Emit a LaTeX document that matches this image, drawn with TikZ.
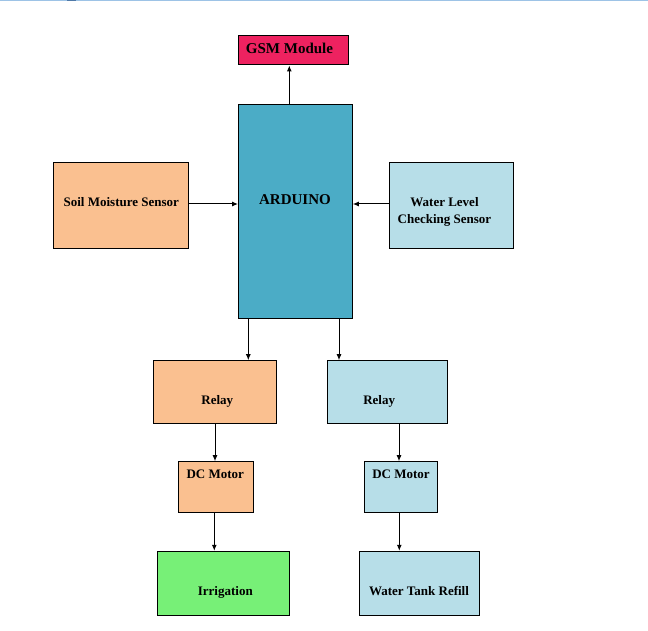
\documentclass[tikz,border=0pt]{standalone}
\usepackage{fontspec}
\setmainfont{Liberation Serif}
\usetikzlibrary{arrows.meta}

\definecolor{gsmred}{RGB}{238,34,96}
\definecolor{ardblue}{RGB}{75,172,198}
\definecolor{soilorange}{RGB}{250,192,144}
\definecolor{waterblue}{RGB}{183,222,232}
\definecolor{irrgreen}{RGB}{119,240,119}
\definecolor{topblue}{RGB}{157,195,230}
\definecolor{topdark}{RGB}{79,121,168}

\begin{document}
\begin{tikzpicture}[x=1pt, y=-1pt,
  block/.style={draw=black, line width=1pt, inner sep=0pt},
  lbl/.style={anchor=base, font=\bfseries\fontsize{13}{17}\selectfont},
  biglbl/.style={anchor=base, font=\bfseries\fontsize{15}{18}\selectfont},
  arr/.style={line width=1pt, -{Latex[length=6pt,width=5pt]}}]

% Fix the page size
\useasboundingbox (0,0) rectangle (648,631);

% Thin line along the top edge
\fill[topblue] (0,0) rectangle (648,1.5);
\fill[topdark] (67,0) rectangle (76,1.5);

% Draw the blocks
\node[block, fill=gsmred, minimum width=110, minimum height=29.3] (gsm) at (293.3,50.3) {};
\node[block, fill=ardblue, minimum width=113.8, minimum height=214] (ard) at (295.4,211.3) {};
\node[block, fill=soilorange, minimum width=135, minimum height=86] (soil) at (120.8,205.3) {};
\node[block, fill=waterblue, minimum width=124, minimum height=86] (water) at (451.3,205.3) {};
\node[block, fill=soilorange, minimum width=123.4, minimum height=62.6] (relayL) at (215,392) {};
\node[block, fill=waterblue, minimum width=120, minimum height=62.6] (relayR) at (387.3,392) {};
\node[block, fill=soilorange, minimum width=75.4, minimum height=50.6] (motorL) at (216,487) {};
\node[block, fill=waterblue, minimum width=73, minimum height=50.6] (motorR) at (400.8,487) {};
\node[block, fill=irrgreen, minimum width=132, minimum height=64] (irr) at (223.3,583.3) {};
\node[block, fill=waterblue, minimum width=120, minimum height=64] (tank) at (419.2,583.3) {};

% Labels of the blocks
\node[biglbl] (gsmtext) at (289.5,53.3) {GSM Module};
\node[biglbl] (ardtext) at (295,205) {ARDUINO};
\node[lbl] (soiltext) at (121.3,206.5) {Soil Moisture Sensor};
\node[lbl, anchor=center, align=center] (watertext) at (444.5,211.8) {Water Level\\Checking Sensor};
\node[lbl] (relayLtext) at (217.3,404.3) {Relay};
\node[lbl] (relayRtext) at (379.2,404.3) {Relay};
\node[lbl] (motorLtext) at (215.3,478.3) {DC Motor};
\node[lbl] (motorRtext) at (401,478.3) {DC Motor};
\node[lbl] (irrtext) at (225.3,595.3) {Irrigation};
\node[lbl] (tanktext) at (419,595.3) {Water Tank Refill};

% Draw the connections
\draw[arr] (ard.north -| 289.3,0) -- (gsm.south -| 289.3,0);
\draw[arr] (soil.east |- 0,204) -- (ard.west |- 0,204);
\draw[arr] (water.west |- 0,204) -- (ard.east |- 0,204);
\draw[arr] (ard.south -| 248.3,0) -- (relayL.north -| 248.3,0);
\draw[arr] (ard.south -| 339,0) -- (relayR.north -| 339,0);
\draw[arr] (relayL.south -| 215,0) -- (motorL.north -| 215,0);
\draw[arr] (relayR.south -| 399,0) -- (motorR.north -| 399,0);
\draw[arr] (motorL.south -| 214.3,0) -- (irr.north -| 214.3,0);
\draw[arr] (motorR.south -| 399.3,0) -- (tank.north -| 399.3,0);

\end{tikzpicture}
\end{document}
